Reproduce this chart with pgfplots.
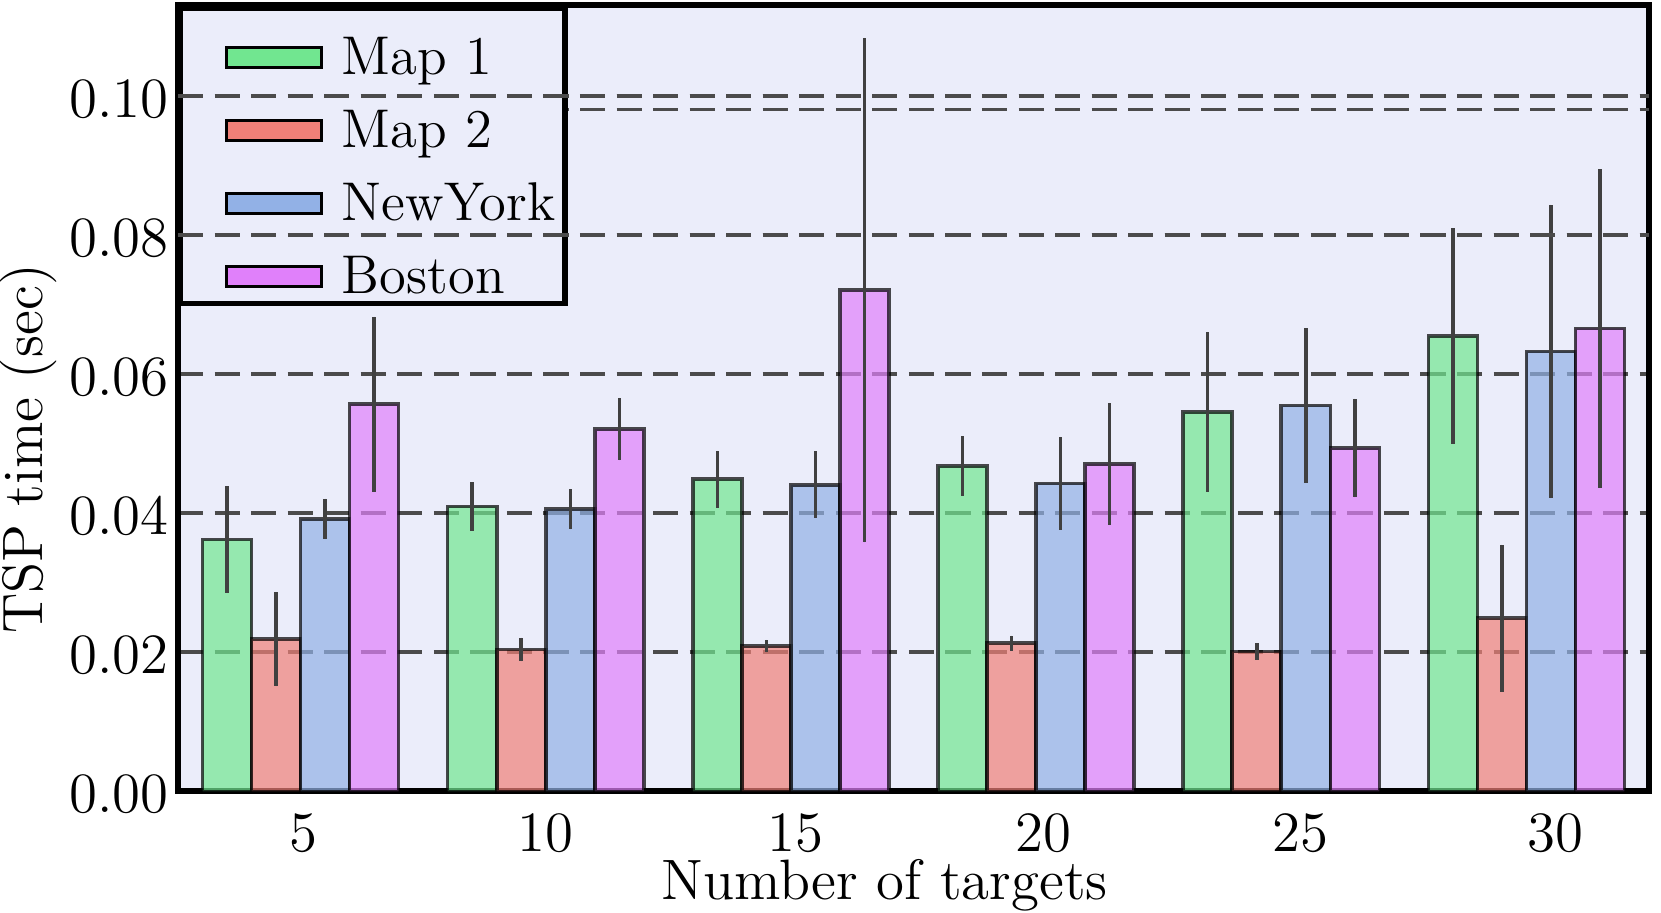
\documentclass[12pt,border=0pt]{standalone}
\usepackage{pgfplots}
\usepackage{pgfplotstable}
\pgfplotsset{compat=1.18}
\definecolor{bg}{RGB}{235,237,250}
\definecolor{cMapA}{RGB}{113,230,144}
\definecolor{cMapB}{RGB}{240,128,120}
\definecolor{cNY}{RGB}{146,177,230}
\definecolor{cBos}{RGB}{224,128,250}
\definecolor{gridc}{RGB}{75,75,75}
\definecolor{errc}{RGB}{64,64,64}

% x = group index + bar offset; y = mean TSP time; e = error half-length
\pgfplotstableread{
x y e
-0.3 0.0362 0.0077
0.7 0.0410 0.0035
1.7 0.0449 0.0041
2.7 0.0468 0.0043
3.7 0.0546 0.0115
4.7 0.0655 0.0155
}\mapone
\pgfplotstableread{
x y e
-0.1 0.0219 0.0068
0.9 0.0204 0.0017
1.9 0.0209 0.0009
2.9 0.0213 0.0011
3.9 0.0201 0.0012
4.9 0.0249 0.0106
}\maptwo
\pgfplotstableread{
x y e
0.1 0.0392 0.0029
1.1 0.0406 0.0029
2.1 0.0441 0.0048
3.1 0.0443 0.0067
4.1 0.0555 0.0111
5.1 0.0633 0.0211
}\newyork
\pgfplotstableread{
x y e
0.3 0.0557 0.0126
1.3 0.0521 0.0045
2.3 0.0721 0.0363
3.3 0.0471 0.0088
4.3 0.0494 0.0071
5.3 0.0666 0.0229
}\boston

\pgfplotsset{
  mybar/.style={ybar, bar width=0.2, bar shift=0, draw=black,
    fill opacity=0.7, draw opacity=0.7, line width=0.75pt,
    error bars/y dir=both, error bars/y explicit, error bars/error mark=none,
    error bars/error bar style={errc, line width=0.75pt, draw opacity=1, solid},
    legend image code/.code={%
      \path (-7.3pt,0pt) (0pt,0pt);
      \draw[##1, fill opacity=1, draw opacity=1, line width=0.6pt] (0pt,1.4pt) rectangle (20pt,5.6pt);}},
}

\begin{document}
\begin{tikzpicture}
\begin{axis}[
  scale only axis, width=309.96pt, height=165.62pt,
  xmin=-0.5, xmax=5.5, ymin=0, ymax=0.1131,
  axis background/.style={fill=bg},
  axis line style={line width=1.3pt, black},
  xtick={0.01,1.0,2.02,3.03,4.08,5.12},
  xticklabels={5,\raisebox{0.45pt}{10},\raisebox{0.9pt}{15},\raisebox{0.45pt}{20},\raisebox{1.3pt}{25},30},
  ytick={0,0.02,0.04,0.06,0.08,0.1},
  scaled y ticks=false,
  yticklabel style={/pgf/number format/fixed, /pgf/number format/fixed zerofill,
    /pgf/number format/precision=2, inner sep=0pt, xshift=-1.8pt, yshift=-0.6pt},
  xticklabel style={inner sep=0pt, yshift=-4.6pt},
  major tick length=0pt,
  ymajorgrids,
  grid style={gridc, line width=0.85pt, dash pattern=on 5.3pt off 2.4pt},
  xlabel={Number of targets},
  ylabel={TSP time (sec)},
  xlabel style={at={(axis description cs:0.4803,0)}, anchor=base, inner sep=0pt, yshift=-22.7pt},
  ylabel style={at={(axis description cs:-0.092,0.4355)}, anchor=base, inner sep=0pt},
  legend cell align=left,
  legend style={at={(axis description cs:0,1)}, anchor=north west, draw=black,
    line width=1.1pt, fill=bg, inner xsep=2pt, inner ysep=1.8pt, row sep=2.8pt,
    font=\fontsize{11.5}{13.8}\selectfont,
    nodes={inner sep=0pt, text height=12.2pt, text depth=0pt, anchor=base west},
    /tikz/every odd column/.append style={column sep=4pt}},
]
\coordinate (SW) at (rel axis cs:0,0);
\coordinate (NE) at (rel axis cs:1,1);
\addplot[gridc, line width=0.55pt, dash pattern=on 5.3pt off 2.4pt, forget plot]
  coordinates {(-0.5,0.0981) (5.5,0.0981)};
\addplot[mybar, fill=cMapA] table[x=x, y=y, y error=e]{\mapone};
\addlegendentry{Map 1}
\addplot[mybar, fill=cMapB] table[x=x, y=y, y error=e]{\maptwo};
\addlegendentry{Map 2}
\addplot[mybar, fill=cNY] table[x=x, y=y, y error=e]{\newyork};
\addlegendentry{NewYork}
\addplot[mybar, fill=cBos] table[x=x, y=y, y error=e]{\boston};
\addlegendentry{Boston}
\end{axis}
\begin{axis}[
  scale only axis, width=309.96pt, height=165.62pt,
  xmin=-0.5, xmax=5.5, ymin=0, ymax=0.1131,
  axis line style={draw=none},
  xtick=\empty, ytick={0.08,0.1}, yticklabels={},
  major tick length=0pt,
  ymajorgrids,
  grid style={gridc, line width=0.85pt, dash pattern=on 5.3pt off 2.4pt},
]
\addplot[draw=none, forget plot] coordinates {(0,0.01)};
\end{axis}
\path ([shift={(-37.51pt,-25.64pt)}]SW) rectangle ([shift={(2.53pt,1.12pt)}]NE);
\end{tikzpicture}
\end{document}
